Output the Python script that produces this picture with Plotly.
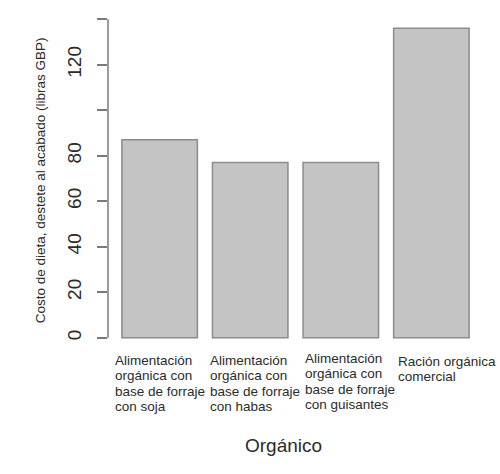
import plotly.graph_objects as go

categorias = [["Alimentación", "orgánica con", "base de forraje", "con soja"],
              ["Alimentación", "orgánica con", "base de forraje", "con habas"],
              ["Alimentación", "orgánica con", "base de forraje", "con guisantes"],
              ["Ración orgánica", "comercial"]]
costos = [87, 77, 77, 136]
ticks_y = [0, 20, 40, 60, 80, 100, 120, 140]
ticks_txt = ["0", "20", "40", "60", "80", "", "120", ""]

ids = ["c1", "c2", "c3", "c4"]

fig = go.Figure()
fig.add_trace(go.Bar(
    x=ids, y=costos,
    marker=dict(color="#c4c4c4", line=dict(color="#8c8c8c", width=1.5)),
))

# etiquetas de categoria alineadas a la izquierda, una linea cada vez
shifts = [-47, -42, -38, -35]
tops = [-1, -1, 1, -2]
for cid, lineas, sh, tp in zip(ids, categorias, shifts, tops):
    for j, txt in enumerate(lineas):
        fig.add_annotation(x=cid, y=0, xref="x", yref="paper", text=txt,
                           xanchor="left", yanchor="top", align="left",
                           showarrow=False, xshift=sh, yshift=tp - j * 15.3,
                           font=dict(size=13.5, color="#2b2b2b"))

# eje y solo de 0 a 140
fig.add_shape(type="line", xref="paper", yref="y", x0=0, x1=0, y0=0, y1=140,
              line=dict(color="#7a7a7a", width=1.5))

fig.add_annotation(x=0.467, y=-0.322, xref="paper", yref="paper", text="Orgánico",
                   showarrow=False, font=dict(size=19, color="#2b2b2b"))
fig.add_annotation(x=-0.203, y=0.509, xref="paper", yref="paper",
                   text="Costo de dieta, destete al acabado (libras GBP)",
                   textangle=-90, showarrow=False,
                   font=dict(size=13.5, color="#2b2b2b"))

fig.update_layout(
    width=500, height=474,
    margin=dict(l=108, r=17, t=16, b=124),
    plot_bgcolor="white", paper_bgcolor="white",
    bargap=0.1667,
    showlegend=False,
    font=dict(family="Liberation Sans, Arial", color="#2b2b2b"),
    xaxis=dict(range=[-0.570, 3.570], showticklabels=False, showline=False,
               showgrid=False, zeroline=False, ticks="", automargin=False),
    yaxis=dict(range=[-5.4, 141.4], tickvals=ticks_y, ticktext=ticks_txt,
               ticks="outside", ticklen=10, tickcolor="#7a7a7a", tickwidth=1.5,
               tickangle=-90, ticklabelstandoff=8, automargin=False,
               showgrid=False, zeroline=False, showline=False,
               tickfont=dict(size=19, color="#2b2b2b")),
)

fig.write_html("out.html", config={"displayModeBar": False},
               post_script="document.body.style.margin='0';")
